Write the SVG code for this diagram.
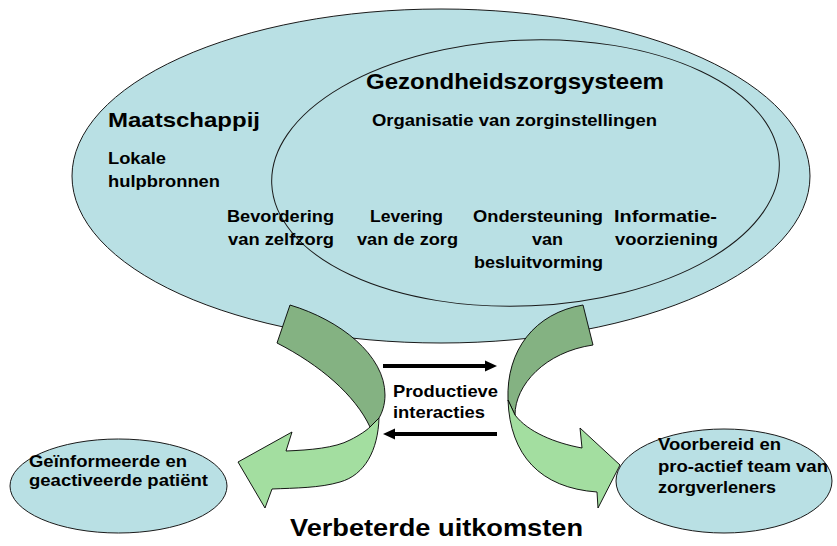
<svg xmlns="http://www.w3.org/2000/svg" width="837" height="546" viewBox="0 0 837 546">
  <style>
    .ell { fill: #B9E0E4; stroke: #1a1a1a; stroke-width: 1; }
    .dark { fill: #84B282; stroke: #000; stroke-width: 0.9; stroke-linejoin: round; }
    .light { fill: #A3DEA0; stroke: #000; stroke-width: 0.9; stroke-linejoin: round; }
    text { font-family: "Liberation Sans", Arial, sans-serif; font-weight: bold; fill: #000; }
    .t17 { font-size: 17px; }
    .conn { stroke: #000; stroke-width: 4; fill: none; }
  </style>
  <defs>
    <marker id="ah" markerUnits="userSpaceOnUse" markerWidth="12" markerHeight="12" refX="5" refY="6" orient="auto">
      <path d="M0,0.5 L12,6 L0,11.5 Z" fill="#000"/>
    </marker>
  </defs>
  <rect width="837" height="546" fill="#fff"/>

  <g id="maatschappij">
    <ellipse class="ell" cx="441" cy="176" rx="369" ry="167"/>
    <text x="108" y="127" font-size="21" textLength="152" lengthAdjust="spacingAndGlyphs">Maatschappij</text>
    <text class="t17" x="108" y="164" textLength="58" lengthAdjust="spacingAndGlyphs">Lokale</text>
    <text class="t17" x="108" y="187" textLength="112" lengthAdjust="spacingAndGlyphs">hulpbronnen</text>
  </g>

  <g id="gezondheidszorgsysteem">
    <ellipse class="ell" cx="525.5" cy="173" rx="254" ry="133" transform="rotate(-2.5 525.5 173)"/>
    <text x="366" y="89" font-size="22" textLength="298" lengthAdjust="spacingAndGlyphs">Gezondheidszorgsysteem</text>
    <text class="t17" x="372" y="126" textLength="285" lengthAdjust="spacingAndGlyphs">Organisatie van zorginstellingen</text>
  </g>

  <g id="bevordering">
    <text class="t17" x="227" y="222" textLength="107" lengthAdjust="spacingAndGlyphs">Bevordering</text>
    <text class="t17" x="228" y="245" textLength="106" lengthAdjust="spacingAndGlyphs">van zelfzorg</text>
  </g>
  <g id="levering">
    <text class="t17" x="370" y="222" textLength="73" lengthAdjust="spacingAndGlyphs">Levering</text>
    <text class="t17" x="357" y="245" textLength="101" lengthAdjust="spacingAndGlyphs">van de zorg</text>
  </g>
  <g id="ondersteuning">
    <text class="t17" x="473" y="222" textLength="130" lengthAdjust="spacingAndGlyphs">Ondersteuning</text>
    <text class="t17" x="532" y="245" textLength="31" lengthAdjust="spacingAndGlyphs">van</text>
    <text class="t17" x="474" y="268" textLength="129" lengthAdjust="spacingAndGlyphs">besluitvorming</text>
  </g>
  <g id="informatie">
    <text class="t17" x="614" y="222" textLength="103" lengthAdjust="spacingAndGlyphs">Informatie-</text>
    <text class="t17" x="615" y="245" textLength="103" lengthAdjust="spacingAndGlyphs">voorziening</text>
  </g>

  <g id="ribbon-left">
    <path class="dark" d="M277,343 L290,305 C340,320 385,355 385,395 C385,405 382,413 379,418 L370,427 C355,395 320,365 277,343 Z"/>
    <path class="light" d="M379,418 C378,450 365,475 340,482 C320,488 295,488 272,489 L265,508 L238,462 L292,432 L286,451 C310,450 335,448 350,440 C360,435 367,430 370,427 Z"/>
  </g>
  <g id="ribbon-right">
    <path class="dark" d="M583,305 L593,345 C545,352 515,385 515,415 L508,400 C506,350 535,313 583,305 Z"/>
    <path class="light" d="M508,400 C510,455 540,488 597,492 L598,508 L620,465 L580,428 L582,448 C555,443 528,432 515,415 Z"/>
  </g>

  <g id="connectors">
    <line class="conn" x1="383" y1="366" x2="490" y2="366" marker-end="url(#ah)"/>
    <line class="conn" x1="497" y1="434" x2="390" y2="434" marker-end="url(#ah)"/>
  </g>

  <g id="productieve-interacties">
    <text class="t17" x="393" y="397" textLength="105" lengthAdjust="spacingAndGlyphs">Productieve</text>
    <text class="t17" x="393" y="418" textLength="92" lengthAdjust="spacingAndGlyphs">interacties</text>
  </g>

  <g id="patient">
    <ellipse class="ell" cx="118.5" cy="486" rx="108.5" ry="47"/>
    <text class="t17" x="29" y="467" textLength="158" lengthAdjust="spacingAndGlyphs">Geïnformeerde en</text>
    <text class="t17" x="29" y="486" textLength="179" lengthAdjust="spacingAndGlyphs">geactiveerde patiënt</text>
  </g>

  <g id="team">
    <ellipse class="ell" cx="724" cy="481" rx="108" ry="52"/>
    <text class="t17" x="658" y="450" textLength="123" lengthAdjust="spacingAndGlyphs">Voorbereid en</text>
    <text class="t17" x="658" y="472" textLength="170" lengthAdjust="spacingAndGlyphs">pro-actief team van</text>
    <text class="t17" x="658" y="493" textLength="118" lengthAdjust="spacingAndGlyphs">zorgverleners</text>
  </g>

  <g id="uitkomsten">
    <text x="290" y="536" font-size="23" textLength="293" lengthAdjust="spacingAndGlyphs">Verbeterde uitkomsten</text>
  </g>
</svg>
